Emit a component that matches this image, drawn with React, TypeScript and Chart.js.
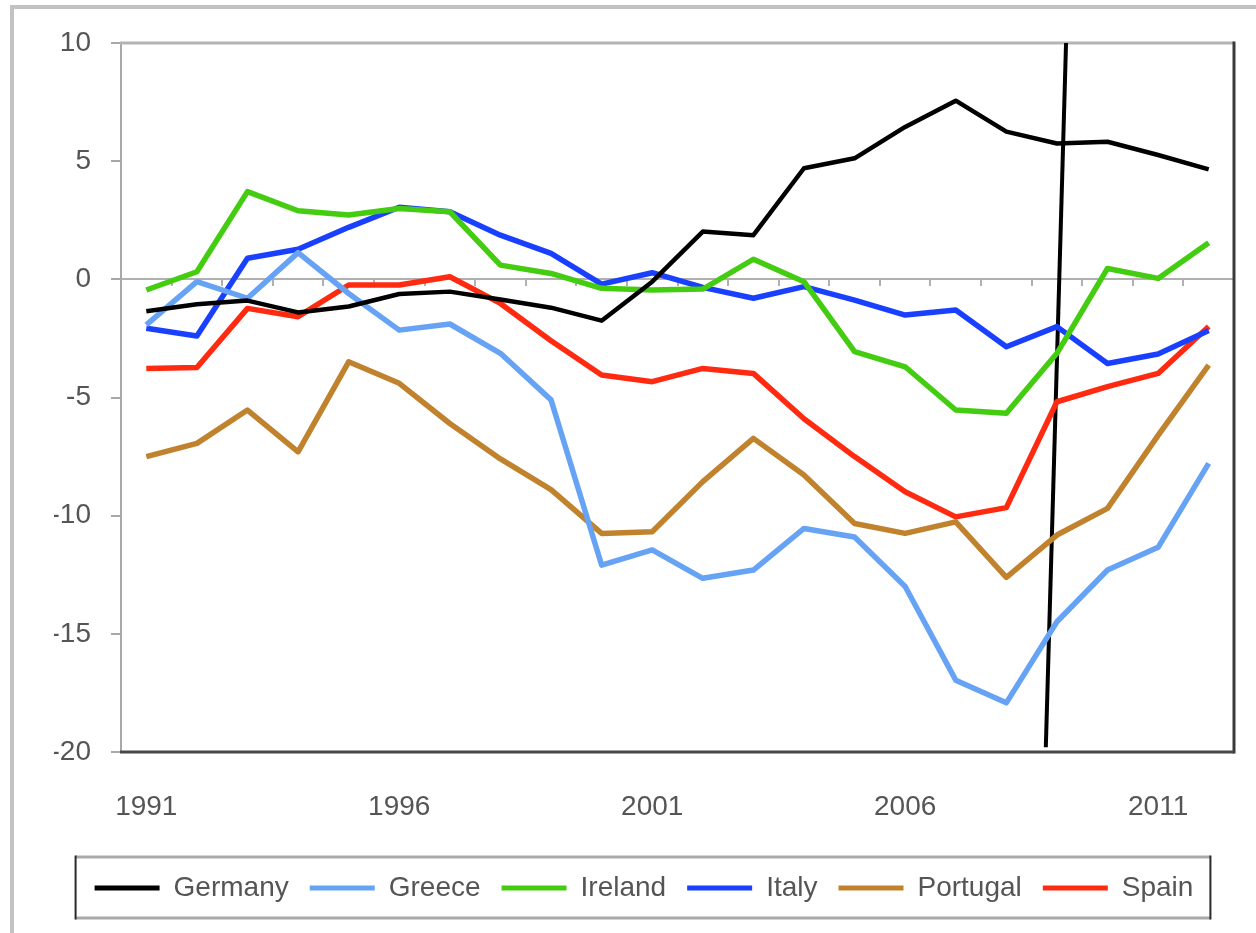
import React, { useEffect, useRef } from 'react';
import { Chart, registerables } from 'chart.js';

Chart.register(...registerables);

const years = ['1991','1992','1993','1994','1995','1996','1997','1998','1999','2000','2001','2002','2003','2004','2005','2006','2007','2008','2009','2010','2011','2012'];
const labeledYears = ['1991','1996','2001','2006','2011'];

const germany = [-1.35, -1.05, -0.9, -1.4, -1.15, -0.62, -0.52, -0.85, -1.2, -1.75, -0.1, 2.02, 1.87, 4.7, 5.12, 6.45, 7.56, 6.25, 5.75, 5.82, 5.26, 4.65];
const greece = [-1.93, -0.1, -0.8, 1.13, -0.6, -2.15, -1.89, -3.13, -5.1, -12.09, -11.45, -12.65, -12.3, -10.54, -10.9, -13.0, -16.96, -17.92, -14.49, -12.3, -11.34, -7.79];
const ireland = [-0.45, 0.32, 3.71, 2.9, 2.72, 3.0, 2.86, 0.6, 0.25, -0.38, -0.45, -0.41, 0.85, -0.1, -3.06, -3.7, -5.53, -5.67, -3.13, 0.46, 0.04, 1.55];
const italy = [-2.07, -2.4, 0.89, 1.27, 2.2, 3.05, 2.86, 1.87, 1.1, -0.2, 0.28, -0.34, -0.8, -0.31, -0.88, -1.51, -1.3, -2.85, -2.0, -3.56, -3.16, -2.17];
const portugal = [-7.5, -6.94, -5.53, -7.3, -3.49, -4.4, -6.1, -7.6, -8.9, -10.75, -10.68, -8.56, -6.73, -8.28, -10.33, -10.75, -10.26, -12.61, -10.82, -9.69, -6.6, -3.63];
const spain = [-3.77, -3.73, -1.23, -1.58, -0.24, -0.24, 0.11, -1.02, -2.6, -4.05, -4.33, -3.77, -3.98, -5.9, -7.5, -8.99, -10.05, -9.66, -5.18, -4.54, -3.98, -2.0];

// hand-drawn vertical marker (x in fractional years, y in axis units)
const markerX = [2009.18, 2008.78];
const markerY = [10, -19.8];

const FONT = 'Liberation Sans, Arial, sans-serif';
const TEXT = '#555555';

const plotFrame = {
  id: 'plotFrame',
  beforeDatasetsDraw(chart: any) {
    const { ctx, chartArea: a } = chart;
    ctx.save();
    ctx.lineCap = 'butt';
    ctx.strokeStyle = '#b4b4b4';
    ctx.lineWidth = 3;
    ctx.beginPath();
    ctx.moveTo(a.left - 1, a.top);
    ctx.lineTo(a.right, a.top);
    ctx.stroke();
    ctx.strokeStyle = '#3a3a3a';
    ctx.beginPath();
    ctx.moveTo(a.right, a.top - 1.5);
    ctx.lineTo(a.right, a.bottom + 1.5);
    ctx.stroke();
    ctx.strokeStyle = '#474747';
    ctx.beginPath();
    ctx.moveTo(a.left - 1, a.bottom);
    ctx.lineTo(a.right, a.bottom);
    ctx.stroke();
    ctx.restore();
  },
  afterDraw(chart: any) {
    const lg = chart.legend;
    if (!lg || !lg.legendHitBoxes || !lg.legendHitBoxes.length) return;
    const hb = lg.legendHitBoxes;
    const first = hb[0];
    const last = hb[hb.length - 1];
    const cy = first.top + first.height / 2;
    const l = first.left - 19;
    const r = last.left + last.width + 17;
    const t = cy - 31;
    const b = cy + 30;
    const { ctx } = chart;
    ctx.save();
    ctx.strokeStyle = '#a9a9a9';
    ctx.lineWidth = 3;
    ctx.beginPath();
    ctx.moveTo(l, t); ctx.lineTo(r, t);
    ctx.moveTo(l, b); ctx.lineTo(r, b);
    ctx.stroke();
    ctx.strokeStyle = '#2a2a2a';
    ctx.lineWidth = 2;
    ctx.beginPath();
    ctx.moveTo(l, t - 1.5); ctx.lineTo(l, b + 1.5);
    ctx.moveTo(r, t - 1.5); ctx.lineTo(r, b + 1.5);
    ctx.stroke();
    ctx.restore();
  },
};

function line(label: string, data: number[], color: string, width = 5.5) {
  return {
    label,
    data,
    borderColor: color,
    backgroundColor: color,
    borderWidth: width,
    borderJoinStyle: 'round',
    pointRadius: 0,
    pointHoverRadius: 0,
    tension: 0,
    fill: false,
    xAxisID: 'x',
    yAxisID: 'y',
  };
}

export default function App() {
  const ref = useRef<HTMLCanvasElement | null>(null);

  useEffect(() => {
    if (!ref.current) return;
    const chart = new Chart(ref.current, {
      type: 'line',
      data: {
        labels: years,
        datasets: [
          line('Germany', germany, '#000000', 4.5),
          line('Greece', greece, '#66a3f5'),
          line('Ireland', ireland, '#44cc11'),
          line('Italy', italy, '#1a40ff'),
          line('Portugal', portugal, '#c0822c'),
          line('Spain', spain, '#ff2a10'),
          {
            label: 'marker',
            data: markerX.map((x, i) => ({ x, y: markerY[i] })),
            borderColor: '#000000',
            backgroundColor: '#000000',
            borderWidth: 4,
            pointRadius: 0,
            pointHoverRadius: 0,
            tension: 0,
            fill: false,
            xAxisID: 'xl',
            yAxisID: 'y',
          } as any,
        ],
      },
      options: {
        animation: false,
        responsive: true,
        maintainAspectRatio: false,
        events: [],
        layout: { padding: { left: 54, right: 22, top: 43, bottom: 21 } },
        scales: {
          x: {
            type: 'category',
            offset: true,
            grid: { display: false, drawTicks: false },
            border: { display: false },
            ticks: {
              autoSkip: false,
              maxRotation: 0,
              padding: 38,
              color: TEXT,
              font: { family: FONT, size: 28 },
              callback: (_v: any, i: number) => (labeledYears.includes(years[i]) ? years[i] : ''),
            },
            afterFit: (s: any) => { s.height = 101; },
          },
          x2: {
            type: 'category',
            position: { y: 0 } as any,
            offset: true,
            grid: { offset: true, drawOnChartArea: false, drawTicks: true, tickLength: 6, color: '#b0b0b0', lineWidth: 2 },
            border: { display: true, color: '#b0b0b0', width: 2 },
            ticks: { display: false },
          },
          xl: {
            type: 'linear',
            display: false,
            min: 1990.5,
            max: 2012.5,
          },
          y: {
            type: 'linear',
            min: -20,
            max: 10,
            ticks: { stepSize: 5, padding: 20, color: TEXT, font: { family: FONT, size: 28 } },
            grid: { drawOnChartArea: false, tickLength: 10, color: '#a8a8a8', lineWidth: 2 },
            border: { display: true, color: '#a8a8a8', width: 2 },
            afterFit: (s: any) => { s.width = 67; },
          },
        } as any,
        plugins: {
          tooltip: { enabled: false },
          title: { display: false },
          legend: {
            display: true,
            position: 'bottom',
            labels: {
              boxWidth: 65,
              boxHeight: 5,
              padding: 21,
              color: TEXT,
              font: { family: FONT, size: 28 },
              generateLabels: (c: any) =>
                (Chart.defaults.plugins.legend.labels as any)
                  .generateLabels(c)
                  .filter((l: any) => l.datasetIndex < 6)
                  .map((l: any) => ({ ...l, fillStyle: l.strokeStyle, lineWidth: 0 })),
            },
          },
        },
      },
      plugins: [plotFrame],
    } as any);
    return () => chart.destroy();
  }, []);

  return (
    <div style={{ position: 'fixed', left: 0, top: 0, width: 1256, height: 933, overflow: 'hidden', background: '#ffffff' }}>
      <div
        style={{
          position: 'absolute',
          left: 10,
          top: 5,
          width: 1400,
          height: 1100,
          borderTop: '4px solid #c2c2c2',
          borderLeft: '4px solid #c2c2c2',
        }}
      />
      <div style={{ position: 'absolute', left: 0, top: 0, width: 1256, height: 933 }}>
        <canvas ref={ref} />
      </div>
    </div>
  );
}
